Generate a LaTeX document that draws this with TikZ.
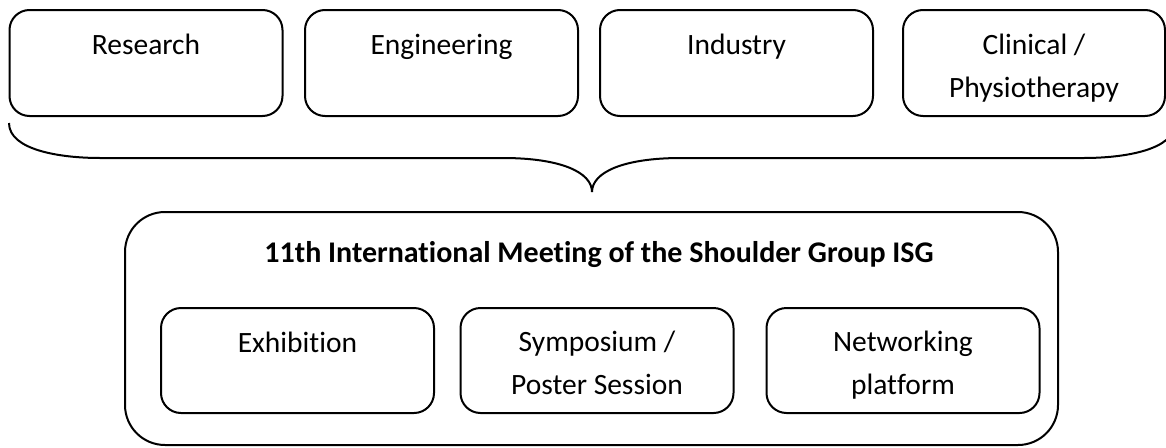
\documentclass[tikz,border=0pt]{standalone}
\usepackage{fontspec}
\setmainfont{Carlito}[Ligatures=CommonOff]
\begin{document}
\begin{tikzpicture}[x=1pt,y=-1pt,
  box/.style={draw,line width=2pt,rounded corners=20pt,inner sep=0pt,
    minimum width=273pt,minimum height=106pt},
  bigbox/.style={draw,line width=2pt,rounded corners=40pt,inner sep=0pt,
    minimum width=933pt,minimum height=233pt},
  lbl/.style={anchor=base,align=center,inner sep=0pt,
    font=\fontsize{29.5pt}{43pt}\selectfont},
  ttl/.style={anchor=base,inner sep=0pt,
    font=\fontsize{30pt}{36pt}\selectfont\bfseries},
  brace/.style={line width=2pt}]
\useasboundingbox (0,0) rectangle (1166,447);
% top boxes
\node[box] (res) at (146,63) {};
\node[box] (eng) at (441.5,63) {};
\node[box] (ind) at (736.5,63) {};
\node[box,minimum width=262pt] (cli) at (1034,63) {};
\node[lbl] (resT) at (146,54) {Research};
\node[lbl] (engT) at (441.5,54) {Engineering};
\node[lbl] (indT) at (736.5,54) {Industry};
\node[lbl] (cliT) at (1034,97) {Clinical /\\Physiotherapy};
% brace
\coordinate (bl) at (9,123);
\coordinate (br) at (1175,123);
\coordinate (tip) at (592,192);
\draw[brace] (bl) .. controls (9,150) and (60,158) .. (100,158) -- (503,158)
   .. controls (560,158) and (592,172) .. (tip);
\draw[brace] (tip) .. controls (592,172) and (624,158) .. (681,158) -- (1084,158)
   .. controls (1124,158) and (1175,150) .. (br);
% bottom
\node[bigbox] (isg) at (591.5,328.5) {};
\node[ttl] (isgT) at (599,262) {11th International Meeting of the Shoulder Group ISG};
\node[box,minimum height=105pt] (exh) at (297.5,360.5) {};
\node[box,minimum height=105pt] (sym) at (597,360.5) {};
\node[box,minimum height=105pt] (net) at (903,360.5) {};
\node[lbl] (exhT) at (297.5,352) {Exhibition};
\node[lbl] (symT) at (597,394) {Symposium /\\Poster Session};
\node[lbl] (netT) at (903,394) {Networking\\platform};
\end{tikzpicture}
\end{document}
